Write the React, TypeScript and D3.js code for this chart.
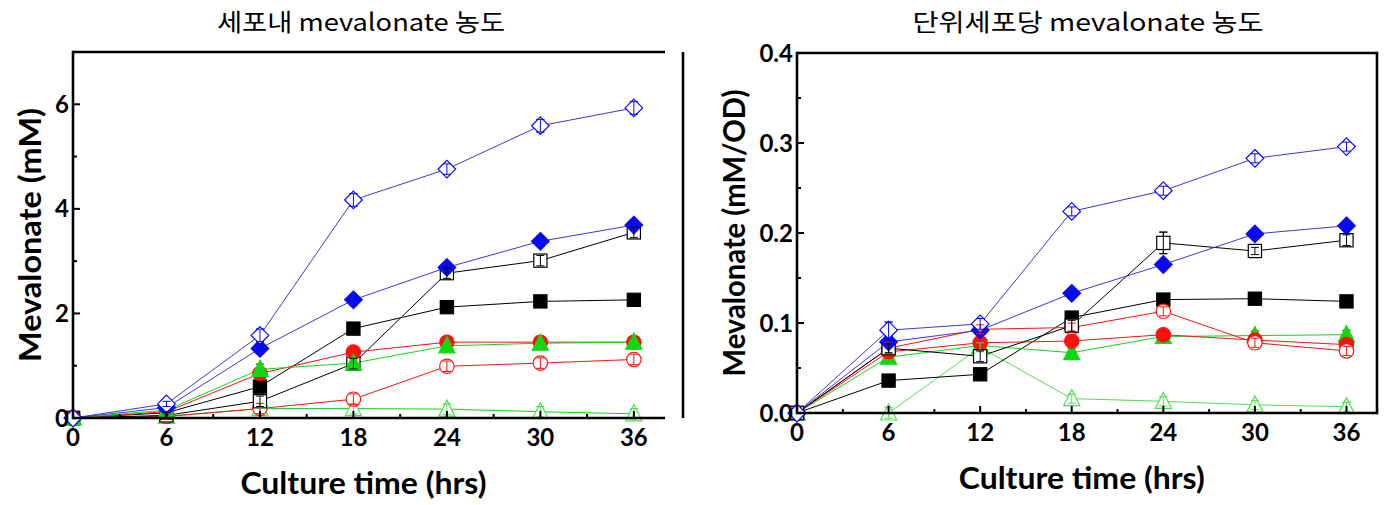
import React from "react";
import * as d3 from "d3";

const hours = [0, 6, 12, 18, 24, 30, 36];
const xTicks = [0, 6, 12, 18, 24, 30, 36];
const xMinor = [3, 9, 15, 21, 27, 33];

// Left panel: mevalonate (mM)
const L_openDiamond = [0, 0.27, 1.58, 4.17, 4.76, 5.59, 5.93];
const L_fillDiamond = [0, 0.2, 1.33, 2.26, 2.88, 3.38, 3.69];
const L_openSquare = [0, 0.05, 0.32, 1.04, 2.77, 3.01, 3.55];
const L_fillSquare = [0, 0.1, 0.6, 1.71, 2.12, 2.23, 2.26];
const L_fillCircle = [0, 0.12, 0.85, 1.26, 1.45, 1.45, 1.45];
const L_openCircle = [0, 0.03, 0.18, 0.36, 0.99, 1.05, 1.12];
const L_fillTri = [0, 0.15, 0.93, 1.05, 1.38, 1.43, 1.45];
const L_openTri = [0, 0.03, 0.18, 0.18, 0.17, 0.12, 0.08];
const L_errOpenDiamond = [0, 0.05, 0.12, 0.12, 0.1, 0.12, 0.12];
const L_errSmall = [0, 0.05, 0.1, 0.1, 0.1, 0.1, 0.1];
const leftYTicks = [0, 2, 4, 6];
const leftYMinor = [1, 3, 5];

// Right panel: mevalonate per OD (mM/OD)
const R_openDiamond = [0, 0.092, 0.099, 0.224, 0.247, 0.283, 0.296];
const R_fillDiamond = [0, 0.079, 0.092, 0.133, 0.165, 0.199, 0.208];
const R_openSquare = [0, 0.072, 0.063, 0.097, 0.189, 0.18, 0.192];
const R_fillSquare = [0, 0.036, 0.043, 0.106, 0.126, 0.127, 0.124];
const R_fillCircle = [0, 0.068, 0.078, 0.08, 0.087, 0.081, 0.076];
const R_openCircle = [0, 0.072, 0.093, 0.095, 0.113, 0.078, 0.069];
const R_fillTri = [0, 0.062, 0.075, 0.067, 0.085, 0.086, 0.087];
const R_openTri = [0, 0.0, 0.073, 0.016, 0.013, 0.009, 0.007];
const R_errOpenDiamond = [0, 0.009, 0.006, 0.005, 0.005, 0.005, 0.005];
const R_errOpenSquare = [0, 0.005, 0.006, 0.006, 0.012, 0.004, 0.006];
const R_errSmall = [0, 0.006, 0.005, 0.005, 0.005, 0.005, 0.005];
const rightYTicks = [0, 0.1, 0.2, 0.3, 0.4];
const rightYMinor = [0.05, 0.15, 0.25, 0.35];

type Shape = "diamond" | "square" | "circle" | "triangle";
interface Series {
  vals: number[];
  err: number[];
  shape: Shape;
  filled: boolean;
  color: string;
  line: string;
}

const BLUE = "#0a0af0";
const BLUE_LINE = "#3a3ad0";
const RED = "#ff1010";
const GREEN = "#10d810";
const GREEN_LIGHT = "#50dd50";

const leftSeries: Series[] = [
  { vals: L_openTri, err: L_errSmall, shape: "triangle", filled: false, color: GREEN_LIGHT, line: GREEN },
  { vals: L_openCircle, err: L_errSmall, shape: "circle", filled: false, color: RED, line: RED },
  { vals: L_openSquare, err: L_errSmall, shape: "square", filled: false, color: "#000", line: "#000" },
  { vals: L_fillSquare, err: L_errSmall, shape: "square", filled: true, color: "#000", line: "#000" },
  { vals: L_fillCircle, err: L_errSmall, shape: "circle", filled: true, color: RED, line: RED },
  { vals: L_fillTri, err: L_errSmall, shape: "triangle", filled: true, color: GREEN, line: GREEN },
  { vals: L_fillDiamond, err: L_errSmall, shape: "diamond", filled: true, color: BLUE, line: BLUE_LINE },
  { vals: L_openDiamond, err: L_errOpenDiamond, shape: "diamond", filled: false, color: BLUE, line: BLUE_LINE },
];

const rightSeries: Series[] = [
  { vals: R_openTri, err: R_errSmall, shape: "triangle", filled: false, color: GREEN_LIGHT, line: GREEN_LIGHT },
  { vals: R_fillSquare, err: R_errSmall, shape: "square", filled: true, color: "#000", line: "#000" },
  { vals: R_fillTri, err: R_errSmall, shape: "triangle", filled: true, color: GREEN, line: GREEN },
  { vals: R_fillCircle, err: R_errSmall, shape: "circle", filled: true, color: RED, line: RED },
  { vals: R_openCircle, err: R_errSmall, shape: "circle", filled: false, color: RED, line: RED },
  { vals: R_openSquare, err: R_errOpenSquare, shape: "square", filled: false, color: "#000", line: "#000" },
  { vals: R_fillDiamond, err: R_errSmall, shape: "diamond", filled: true, color: BLUE, line: BLUE_LINE },
  { vals: R_openDiamond, err: R_errOpenDiamond, shape: "diamond", filled: false, color: BLUE, line: BLUE_LINE },
];

const FONT = "Lato, 'Open Sans', sans-serif";
const KFONT = "'Noto Sans CJK KR', 'Noto Sans', sans-serif";

function Marker({ shape, filled, color, x, y }: { shape: Shape; filled: boolean; color: string; x: number; y: number }) {
  const fill = filled ? color : "#fff";
  const sw = 1.2;
  if (shape === "diamond") {
    const r = 8.8;
    return <path d={`M${x},${y - r}L${x + r},${y}L${x},${y + r}L${x - r},${y}Z`} fill={fill} stroke={color} strokeWidth={sw} />;
  }
  if (shape === "square") {
    const s = 6.6;
    return <rect x={x - s} y={y - s} width={2 * s} height={2 * s} fill={fill} stroke={color} strokeWidth={sw} />;
  }
  if (shape === "circle") {
    return <circle cx={x} cy={y} r={7.2} fill={fill} stroke={color} strokeWidth={sw} />;
  }
  const h = 8;
  return <path d={`M${x},${y - h - 1}L${x + h},${y + h - 1}L${x - h},${y + h - 1}Z`} fill={fill} stroke={color} strokeWidth={sw} />;
}

interface PanelProps {
  series: Series[];
  x0: number;
  x1: number;
  y0: number;
  y1: number;
  yMax: number;
  yTicks: number[];
  yMinor: number[];
  yFmt: (v: number) => string;
  yTitle: string;
  yTitleX: number;
  yTitleLen: number;
  xTitleLen: number;
  title: string;
  titleX: number;
  titleLen: number;
  fullBox: boolean;
  extraRight?: number;
}

function ErrBar({ cx, yLo, yHi, color }: { cx: number; yLo: number; yHi: number; color: string }) {
  return (
    <g stroke={color} strokeWidth={1}>
      <line x1={cx} x2={cx} y1={yLo} y2={yHi} />
      <line x1={cx - 4} x2={cx + 4} y1={yLo} y2={yLo} />
      <line x1={cx - 4} x2={cx + 4} y1={yHi} y2={yHi} />
    </g>
  );
}

function Panel(p: PanelProps) {
  const x = d3.scaleLinear().domain([0, 38]).range([p.x0, p.x1]);
  const y = d3.scaleLinear().domain([0, p.yMax]).range([p.y1, p.y0]);
  const line = d3
    .line<number>()
    .x((_, i) => x(hours[i]))
    .y((v) => y(v));
  const AW = 2.6;
  return (
    <g>
      <text x={p.titleX} y={31} textAnchor="middle" fontFamily={KFONT} fontSize={24} textLength={p.titleLen} lengthAdjust="spacingAndGlyphs">
        {p.title}
      </text>
      {p.series.map((s, k) => (
        <path key={"l" + k} d={line(s.vals) || ""} fill="none" stroke={s.line} strokeWidth={1} />
      ))}
      {p.series.map((s, k) =>
        s.vals.map((v, i) =>
          s.err[i] ? (
            <ErrBar key={"e" + k + "-" + i} cx={x(hours[i])} yLo={y(v - s.err[i])} yHi={y(v + s.err[i])} color={s.filled ? "#000" : s.color} />
          ) : null
        )
      )}
      {p.series.map((s, k) =>
        s.vals.map((v, i) => (
          <Marker key={"m" + k + "-" + i} shape={s.shape} filled={s.filled} color={s.color} x={x(hours[i])} y={y(v)} />
        ))
      )}
      {p.series.map((s, k) =>
        s.filled
          ? null
          : s.vals.map((v, i) =>
              s.err[i] ? (
                <ErrBar key={"eo" + k + "-" + i} cx={x(hours[i])} yLo={y(v - s.err[i])} yHi={y(v + s.err[i])} color={s.color} />
              ) : null
            )
      )}
      <line x1={p.x0} x2={p.x0} y1={p.y0 - AW / 2} y2={p.y1 + AW / 2} stroke="#000" strokeWidth={AW} />
      <line x1={p.x0} x2={p.x1} y1={p.y1} y2={p.y1} stroke="#000" strokeWidth={AW} />
      <line x1={p.x0} x2={p.x1} y1={p.y0} y2={p.y0} stroke="#000" strokeWidth={AW} />
      {p.fullBox ? (
        <line x1={p.x1} x2={p.x1} y1={p.y0 - AW / 2} y2={p.y1 + AW / 2} stroke="#000" strokeWidth={AW} />
      ) : null}
      {p.extraRight ? (
        <line x1={p.extraRight} x2={p.extraRight} y1={p.y0} y2={p.y1} stroke="#000" strokeWidth={AW} />
      ) : null}
      {p.yTicks.map((t) => (
        <line key={"yt" + t} x1={p.x0} x2={p.x0 + 7} y1={y(t)} y2={y(t)} stroke="#000" strokeWidth={2} />
      ))}
      {p.yMinor.map((t) => (
        <line key={"ym" + t} x1={p.x0} x2={p.x0 + 4} y1={y(t)} y2={y(t)} stroke="#000" strokeWidth={2} />
      ))}
      {xTicks.map((t) => (
        <line key={"xt" + t} x1={x(t)} x2={x(t)} y1={p.y1} y2={p.y1 - 7} stroke="#000" strokeWidth={2} />
      ))}
      {xMinor.map((t) => (
        <line key={"xm" + t} x1={x(t)} x2={x(t)} y1={p.y1} y2={p.y1 - 4} stroke="#000" strokeWidth={2} />
      ))}
      {p.yTicks.map((t) => (
        <text key={"yl" + t} x={p.x0 - 4} y={y(t)} dy="0.36em" textAnchor="end" fontFamily={FONT} fontWeight={700} fontSize={24}>
          {p.yFmt(t)}
        </text>
      ))}
      {xTicks.map((t) => (
        <text key={"xl" + t} x={x(t)} y={p.y1 + 28} textAnchor="middle" fontFamily={FONT} fontWeight={700} fontSize={24}>
          {t}
        </text>
      ))}
      <text
        x={(x(0) + x(36)) / 2 + 10}
        y={p.y1 + 76}
        textAnchor="middle"
        fontFamily={FONT}
        fontWeight={700}
        fontSize={31}
        textLength={p.xTitleLen}
        lengthAdjust="spacingAndGlyphs"
      >
        Culture time (hrs)
      </text>
      <text
        transform={`translate(${p.yTitleX},${(p.y0 + p.y1) / 2}) rotate(-90)`}
        textAnchor="middle"
        fontFamily={FONT}
        fontWeight={700}
        fontSize={31}
        textLength={p.yTitleLen}
        lengthAdjust="spacingAndGlyphs"
      >
        {p.yTitle}
      </text>
    </g>
  );
}

export default function App() {
  return (
    <svg width={1389} height={505} style={{ position: "absolute", left: 0, top: 0, background: "#fff" }}>
      <rect width={1389} height={505} fill="#fff" />
      <Panel
        series={leftSeries}
        x0={73}
        x1={665}
        y0={52}
        y1={418}
        yMax={7}
        yTicks={leftYTicks}
        yMinor={leftYMinor}
        yFmt={(v) => String(v)}
        yTitle="Mevalonate (mM)"
        yTitleX={41}
        yTitleLen={254}
        xTitleLen={246}
        title="세포내 mevalonate 농도"
        titleX={361}
        titleLen={288}
        fullBox={false}
        extraRight={683}
      />
      <Panel
        series={rightSeries}
        x0={797}
        x1={1377}
        y0={53}
        y1={413}
        yMax={0.4}
        yTicks={rightYTicks}
        yMinor={rightYMinor}
        yFmt={(v) => v.toFixed(1)}
        yTitle="Mevalonate (mM/OD)"
        yTitleX={745}
        yTitleLen={287}
        xTitleLen={246}
        title="단위세포당 mevalonate 농도"
        titleX={1088}
        titleLen={351}
        fullBox={true}
      />
    </svg>
  );
}
